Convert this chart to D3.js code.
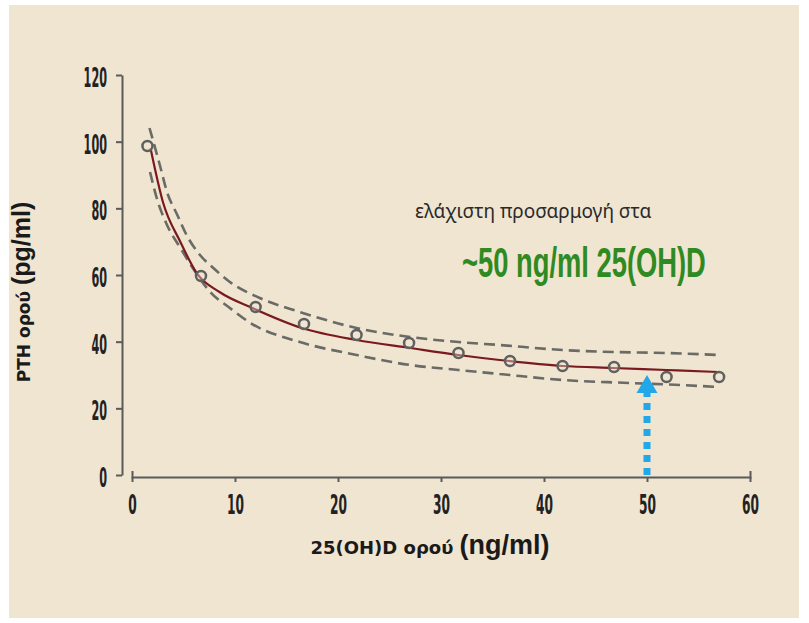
<!DOCTYPE html>
<html lang="el">
<head>
<meta charset="UTF-8">
<title>PTH vs 25(OH)D</title>
<script src="https://d3js.org/d3.v7.min.js"></script>
<style>
  body { margin: 0; background: #fff; }
  svg { display: block; }
  .tick text {
    font-family: "Liberation Sans Narrow", "DejaVu Sans Condensed", sans-serif;
    font-weight: bold;
    fill: #222;
  }
  .axis path, .axis line { stroke: #5a5a5a; stroke-width: 2; }
</style>
</head>
<body>
<svg id="chart"></svg>
<script>
const width = 809, height = 623;

// measured points (open circles)
const obsX = [1.5, 6.7, 12.0, 16.7, 21.8, 26.9, 31.7, 36.7, 41.8, 46.8, 51.9, 57.0];
const obsY = [98.7, 59.7, 50.4, 45.3, 42.0, 39.6, 36.6, 34.2, 32.7, 32.4, 29.4, 29.4];

// fitted curve
const fitX = [1.8, 3.0, 4.7, 6.3, 8.5, 11.7, 16.5, 21.8, 27.0, 31.7, 35.7, 41.8, 46.7, 51.9, 56.9];
const fitY = [98.0, 81.9, 69.9, 60.5, 54.9, 50.1, 44.1, 40.5, 38.1, 36.0, 34.5, 32.7, 32.1, 31.5, 30.9];

// confidence band (dashed)
const upperX = [1.7, 2.7, 3.4, 4.4, 5.3, 6.6, 7.9, 9.5, 12.4, 16.3, 21.8, 27.0, 31.7, 35.7, 41.8, 46.7, 51.9, 56.9];
const upperY = [104.1, 93.0, 84.9, 78.0, 72.0, 66.0, 62.1, 57.9, 53.1, 48.9, 44.1, 41.4, 39.9, 39.0, 37.5, 36.9, 36.6, 36.0];
const lowerX = [1.75, 2.4, 3.4, 4.7, 5.9, 7.6, 9.5, 11.5, 16.3, 21.8, 27.0, 31.7, 35.7, 41.8, 48.3, 53.2, 56.9];
const lowerY = [90.9, 83.1, 75.0, 68.1, 62.1, 54.9, 50.1, 45.6, 39.9, 36.0, 33.0, 31.5, 30.3, 28.5, 27.6, 27.0, 26.4];

const xTicks = [0, 10, 20, 30, 40, 50, 60];
const yTicks = [0, 20, 40, 60, 80, 100, 120];

// arrow marking ~50 ng/ml
const arrowX = 50, arrowFrom = 0, arrowTo = 30;

const svg = d3.select("#chart").attr("width", width).attr("height", height);

svg.append("rect")
  .attr("x", 9).attr("y", 5).attr("width", 790).attr("height", 613)
  .attr("fill", "#efe5d1");

const x = d3.scaleLinear().domain([0, 60]).range([132, 750]);
const y = d3.scaleLinear().domain([0, 120]).range([475, 75]);

// y axis
const yAxis = svg.append("g")
  .attr("class", "axis")
  .attr("transform", "translate(122,0)")
  .call(d3.axisLeft(y).tickValues(yTicks).tickSize(6).tickSizeOuter(0).tickPadding(9));
yAxis.selectAll(".tick text")
  .style("font-size", "27px")
  .attr("dy", "0.42em")
  .attr("textLength", d => String(d).length * 7.8)
  .attr("lengthAdjust", "spacingAndGlyphs");

// x axis
const xAxis = svg.append("g")
  .attr("class", "axis")
  .attr("transform", "translate(0,477)")
  .call(d3.axisBottom(x).tickValues(xTicks).tickSize(5).tickSizeOuter(-6).tickPadding(13));
xAxis.selectAll(".tick text")
  .style("font-size", "27px")
  .attr("textLength", d => String(d).length * 8.5)
  .attr("lengthAdjust", "spacingAndGlyphs");

const line = d3.line().x(d => x(d[0])).y(d => y(d[1])).curve(d3.curveMonotoneX);

// dashed band
[[upperX, upperY], [lowerX, lowerY]].forEach(([xs, ys]) => {
  svg.append("path")
    .datum(xs.map((v, i) => [v, ys[i]]))
    .attr("d", line)
    .attr("fill", "none")
    .attr("stroke", "#6a6a66")
    .attr("stroke-width", 2.6)
    .attr("stroke-dasharray", "11,6");
});

// fitted curve
svg.append("path")
  .datum(fitX.map((v, i) => [v, fitY[i]]))
  .attr("d", line)
  .attr("fill", "none")
  .attr("stroke", "#7a1a1f")
  .attr("stroke-width", 2.2);

// observations
svg.selectAll(".obs")
  .data(obsX.map((v, i) => [v, obsY[i]]))
  .join("circle")
  .attr("class", "obs")
  .attr("cx", d => x(d[0]))
  .attr("cy", d => y(d[1]))
  .attr("r", 5)
  .attr("fill", "#efe5d1")
  .attr("fill-opacity", 0.4)
  .attr("stroke", "#606060")
  .attr("stroke-width", 2.5);

// blue dotted arrow
const headH = 18, headW = 21;
svg.append("line")
  .attr("x1", x(arrowX)).attr("x2", x(arrowX))
  .attr("y1", y(arrowFrom)).attr("y2", y(arrowTo) + headH)
  .attr("stroke", "#22a8e8")
  .attr("stroke-width", 7)
  .attr("stroke-dasharray", "7,6");
svg.append("path")
  .attr("d", `M${x(arrowX)},${y(arrowTo)} L${x(arrowX) + headW / 2},${y(arrowTo) + headH} L${x(arrowX) - headW / 2},${y(arrowTo) + headH} Z`)
  .attr("fill", "#22a8e8");

// annotation
svg.append("text")
  .attr("x", 415).attr("y", 218)
  .style("font-family", "'Noto Sans', 'Open Sans', sans-serif")
  .style("font-size", "19px")
  .attr("fill", "#2a2a2a")
  .text("ελάχιστη προσαρμογή στα");

// condensed green note: squeeze horizontally to the reference width
const note = svg.append("g");
const noteText = note.append("text")
  .attr("x", 0).attr("y", 0)
  .style("font-family", "'Liberation Sans Narrow', sans-serif")
  .style("font-weight", "bold")
  .style("font-size", "43px")
  .attr("fill", "#2f8a22")
  .text("~50 ng/ml 25(OH)D");
const noteW = noteText.node().getComputedTextLength();
note.attr("transform", `translate(462,277) scale(${244 / noteW},1)`);

// axis titles
const xt = svg.append("text")
  .attr("x", 430).attr("y", 554)
  .attr("text-anchor", "middle")
  .attr("fill", "#1a1a1a");
xt.append("tspan")
  .style("font-family", "'DejaVu Sans', sans-serif")
  .style("font-weight", "bold")
  .style("font-size", "18px")
  .text("25(OH)D ορού ");
xt.append("tspan")
  .style("font-family", "'Liberation Sans Narrow', sans-serif")
  .style("font-weight", "bold")
  .style("font-size", "27px")
  .text("(ng/ml)");

const yt = svg.append("text")
  .attr("transform", "translate(30,292) rotate(-90)")
  .attr("text-anchor", "middle")
  .attr("fill", "#1a1a1a");
yt.append("tspan")
  .style("font-family", "'DejaVu Sans', sans-serif")
  .style("font-weight", "bold")
  .style("font-size", "17px")
  .text("PTH ορού  ");
yt.append("tspan")
  .style("font-family", "'Liberation Sans Narrow', sans-serif")
  .style("font-weight", "bold")
  .style("font-size", "25px")
  .text("(pg/ml)");
</script>
</body>
</html>
